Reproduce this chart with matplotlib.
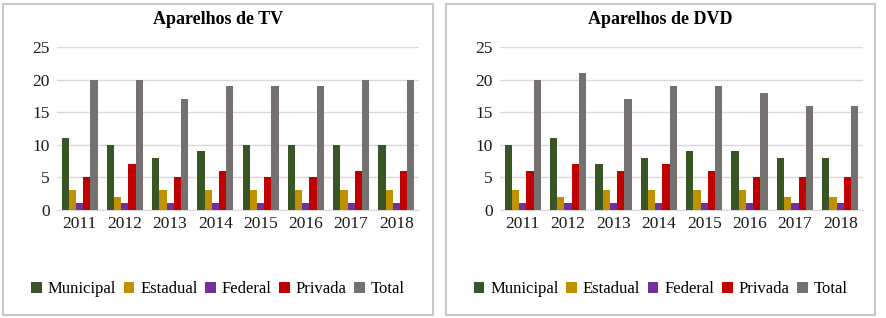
import matplotlib
matplotlib.use("Agg")
import matplotlib.pyplot as plt
from matplotlib.patches import Rectangle, Patch
import numpy as np

years = ['2011', '2012', '2013', '2014', '2015', '2016', '2017', '2018']
series = ['Municipal', 'Estadual', 'Federal', 'Privada', 'Total']
colors = ['#375623', '#BF9000', '#7030A0', '#C00000', '#767171']

tv_municipal = [11, 10, 8, 9, 10, 10, 10, 10]
tv_estadual = [3, 2, 3, 3, 3, 3, 3, 3]
tv_federal = [1, 1, 1, 1, 1, 1, 1, 1]
tv_privada = [5, 7, 5, 6, 5, 5, 6, 6]
tv_total = [20, 20, 17, 19, 19, 19, 20, 20]

dvd_municipal = [10, 11, 7, 8, 9, 9, 8, 8]
dvd_estadual = [3, 2, 3, 3, 3, 3, 2, 2]
dvd_federal = [1, 1, 1, 1, 1, 1, 1, 1]
dvd_privada = [6, 7, 6, 7, 6, 5, 5, 5]
dvd_total = [20, 21, 17, 19, 19, 18, 16, 16]

plt.rcParams['font.family'] = ['Liberation Serif', 'DejaVu Serif']

W, H = 887, 318
fig = plt.figure(figsize=(W / 100, H / 100), dpi=100)
fig.patch.set_facecolor('white')


def draw_panel(px0, px1, ax_x0, ax_x1, title, data):
    # panel border
    fig.patches.append(Rectangle((px0 / W, 3 / H), (px1 - px0) / W, (H - 7) / H,
                                 transform=fig.transFigure, fill=False,
                                 edgecolor='#C8C8C8', linewidth=1.5))
    ax = fig.add_axes([ax_x0 / W, (H - 210) / H, (ax_x1 - ax_x0) / W, 163 / H])
    x = np.arange(len(years))
    bw = 0.16
    for i, (vals, c) in enumerate(zip(data, colors)):
        ax.bar(x + (i - 2) * bw, vals, width=bw, color=c, zorder=3)
    ax.set_xlim(-0.5, len(years) - 0.5)
    ax.set_ylim(0, 25)
    ax.set_yticks(range(0, 26, 5))
    ax.set_xticks(x)
    ax.set_xticklabels(years)
    ax.grid(axis='y', color='#D9D9D9', linewidth=1, zorder=0)
    for s in ['top', 'right', 'left']:
        ax.spines[s].set_visible(False)
    ax.spines['bottom'].set_color('#D9D9D9')
    ax.tick_params(axis='both', length=0, labelsize=12.5, colors='#1a1a1a')
    ax.tick_params(axis='x', pad=4)
    ax.tick_params(axis='y', pad=5)
    fig.text((px0 + px1) / 2 / W, 1 - 19 / H, title, ha='center', va='center',
             fontsize=13, fontweight='bold')
    handles = [Patch(facecolor=c, label=s) for s, c in zip(series, colors)]
    fig.legend(handles=handles, loc='center', ncol=5,
               bbox_to_anchor=((px0 + px1) / 2 / W, 1 - 289 / H),
               frameon=False, fontsize=12, handlelength=0.65, handleheight=0.65,
               handletextpad=0.35, columnspacing=0.45)


draw_panel(3, 433, 57, 419, 'Aparelhos de TV',
           [tv_municipal, tv_estadual, tv_federal, tv_privada, tv_total])
draw_panel(446, 875, 500, 863, 'Aparelhos de DVD',
           [dvd_municipal, dvd_estadual, dvd_federal, dvd_privada, dvd_total])

fig.savefig('out.png', dpi=100)
